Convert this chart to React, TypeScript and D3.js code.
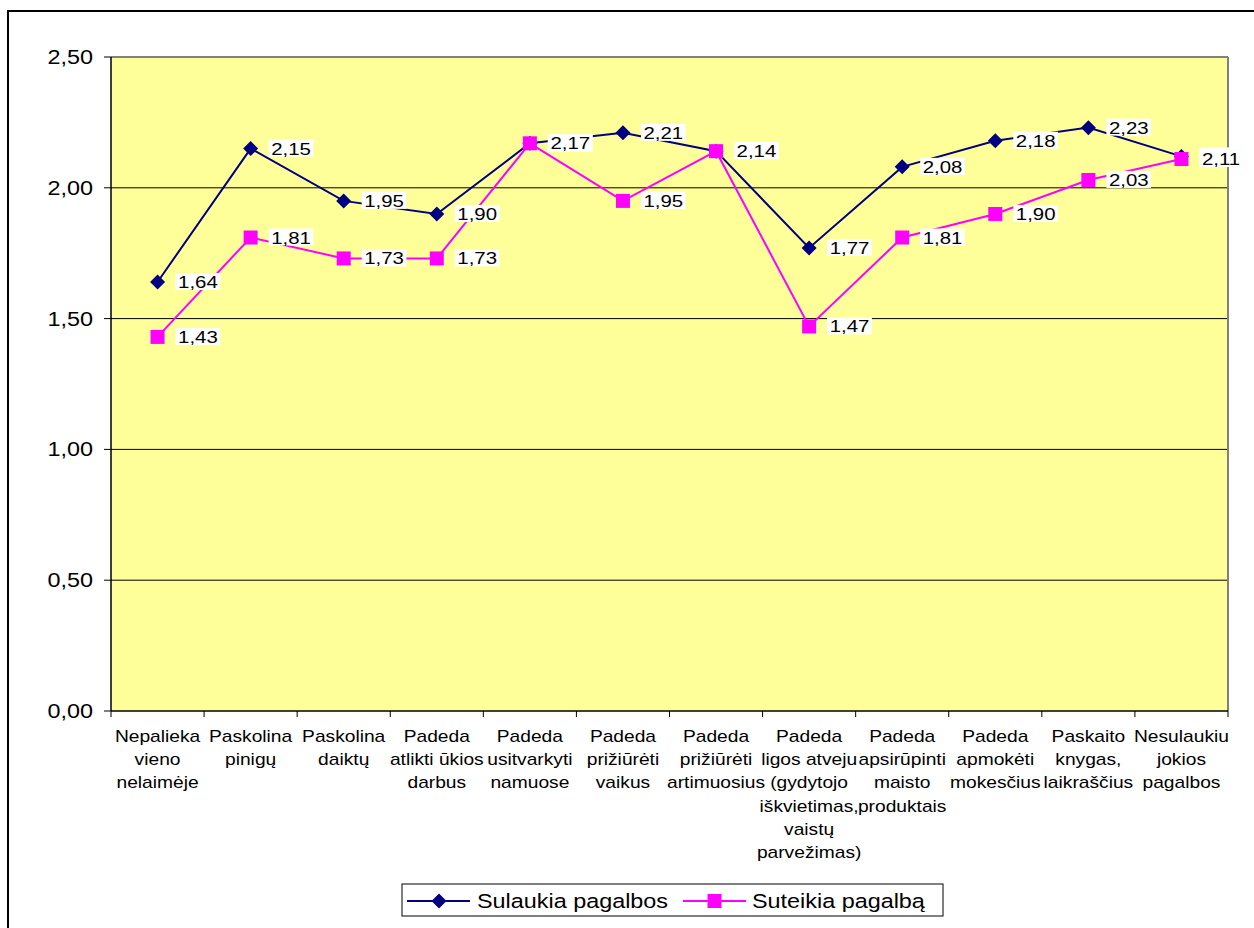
import React from "react";
import * as d3 from "d3";

const categories: string[][] = [
  ["Nepalieka", "vieno", "nelaimėje"],
  ["Paskolina", "pinigų"],
  ["Paskolina", "daiktų"],
  ["Padeda", "atlikti ūkios", "darbus"],
  ["Padeda", "usitvarkyti", "namuose"],
  ["Padeda", "prižiūrėti", "vaikus"],
  ["Padeda", "prižiūrėti", "artimuosius"],
  ["Padeda", "ligos atveju", "(gydytojo", "iškvietimas,", "vaistų", "parvežimas)"],
  ["Padeda", "apsirūpinti", "maisto", "produktais"],
  ["Padeda", "apmokėti", "mokesčius"],
  ["Paskaito", "knygas,", "laikraščius"],
  ["Nesulaukiu", "jokios", "pagalbos"],
];

const sulaukia: number[] = [1.64, 2.15, 1.95, 1.9, 2.17, 2.21, 2.14, 1.77, 2.08, 2.18, 2.23, 2.12];
const suteikia: number[] = [1.43, 1.81, 1.73, 1.73, 2.17, 1.95, 2.14, 1.47, 1.81, 1.9, 2.03, 2.11];

const yTicks: number[] = [0, 0.5, 1.0, 1.5, 2.0, 2.5];
const seriesNames: string[] = ["Sulaukia pagalbos", "Suteikia pagalbą"];

const NAVY = "#000080";
const MAGENTA = "#FF00FF";
const FONT = "'Liberation Sans', Arial, sans-serif";
const SX = 1.2;

const fmt = (v: number) => v.toFixed(2).replace(".", ",");

function T(props: { x: number; y: number; size: number; anchor?: string; children: React.ReactNode }) {
  const { x, y, size, anchor = "start", children } = props;
  return (
    <text
      transform={`translate(${x},${y}) scale(${SX},1)`}
      fontFamily={FONT}
      fontSize={size}
      textAnchor={anchor}
      fill="#000"
    >
      {children}
    </text>
  );
}

export default function App() {
  const W = 1254;
  const H = 928;
  const left = 111;
  const right = 1228;
  const top = 57;
  const bottom = 711;

  const idx = categories.map((_, i) => String(i));
  const x = d3.scaleBand().domain(idx).range([left, right]);
  const cx = (i: number) => (x(String(i)) as number) + x.bandwidth() / 2;
  const y = d3.scaleLinear().domain([0, 2.5]).range([bottom, top]);

  const line = d3
    .line<number>()
    .x((_, i) => cx(i))
    .y((d) => y(d));

  const labelFont = 17;
  const labelWidth = (s: string) => {
    let w = 0;
    for (const c of s) w += c === "," ? 0.278 : 0.556;
    return w * labelFont * SX;
  };

  const diamond = (px: number, py: number, r: number) =>
    `M${px},${py - r}L${px + r},${py}L${px},${py + r}L${px - r},${py}Z`;

  const renderLabels = (vals: number[]) =>
    vals.map((v, i) => {
      const px = cx(i);
      const py = y(v);
      const s = fmt(v);
      const w = labelWidth(s);
      return (
        <g key={i}>
          <rect x={px + 18} y={py - 9} width={w + 5} height={17} fill="#fff" />
          <T x={px + 20.5} y={py + 6} size={labelFont}>
            {s}
          </T>
        </g>
      );
    });

  return (
    <svg
      width={W}
      height={H}
      style={{ position: "absolute", left: 0, top: 0, background: "#fff" }}
    >
      <rect x={8} y={11} width={1300} height={1000} fill="#fff" stroke="#000" strokeWidth={2} />

      {/* plot area */}
      <rect x={left} y={top} width={right - left} height={bottom - top} fill="#FFFF99" />
      {yTicks
        .filter((t) => t > 0 && t < 2.5)
        .map((t) => (
          <line key={t} x1={left} x2={right} y1={y(t)} y2={y(t)} stroke="#000" strokeWidth={1} />
        ))}
      <line x1={left} x2={right} y1={top} y2={top} stroke="#808080" strokeWidth={2} />
      <line x1={right} x2={right} y1={top} y2={bottom} stroke="#808080" strokeWidth={2} />
      <line x1={left} x2={left} y1={top} y2={bottom} stroke="#000" strokeWidth={1.5} />
      <line x1={left} x2={right} y1={bottom} y2={bottom} stroke="#000" strokeWidth={1.5} />

      {/* y ticks */}
      {yTicks.map((t) => (
        <g key={t}>
          <line x1={left - 7} x2={left} y1={y(t)} y2={y(t)} stroke="#000" strokeWidth={1} />
          <T x={93} y={y(t) + 7} size={19.5} anchor="end">
            {fmt(t)}
          </T>
        </g>
      ))}

      {/* x ticks */}
      {d3.range(categories.length + 1).map((i) => {
        const xx = left + i * x.step();
        return <line key={i} x1={xx} x2={xx} y1={bottom} y2={bottom + 6} stroke="#000" strokeWidth={1} />;
      })}

      {/* x labels */}
      {categories.map((lines, i) =>
        lines.map((l, j) => (
          <T key={i + "-" + j} x={cx(i)} y={742 + j * 23.2} size={16} anchor="middle">
            {l}
          </T>
        ))
      )}

      {/* series */}
      <path d={line(sulaukia) || ""} fill="none" stroke={NAVY} strokeWidth={2} />
      {sulaukia.map((v, i) => (
        <path key={i} d={diamond(cx(i), y(v), 7.5)} fill={NAVY} />
      ))}
      <path d={line(suteikia) || ""} fill="none" stroke={MAGENTA} strokeWidth={2} />
      {suteikia.map((v, i) => (
        <rect key={i} x={cx(i) - 7} y={y(v) - 7} width={14} height={14} fill={MAGENTA} />
      ))}

      {renderLabels(sulaukia)}
      {renderLabels(suteikia)}

      {/* legend */}
      <rect x={402} y={884} width={541} height={32} fill="#fff" stroke="#000" strokeWidth={1} />
      <line x1={407} x2={470} y1={901} y2={901} stroke={NAVY} strokeWidth={2} />
      <path d={diamond(439, 901, 7.5)} fill={NAVY} />
      <T x={477} y={908} size={19.5}>
        {seriesNames[0]}
      </T>
      <line x1={683} x2={746} y1={901} y2={901} stroke={MAGENTA} strokeWidth={2} />
      <rect x={707.5} y={894} width={14} height={14} fill={MAGENTA} />
      <T x={752} y={908} size={19.5}>
        {seriesNames[1]}
      </T>
    </svg>
  );
}
